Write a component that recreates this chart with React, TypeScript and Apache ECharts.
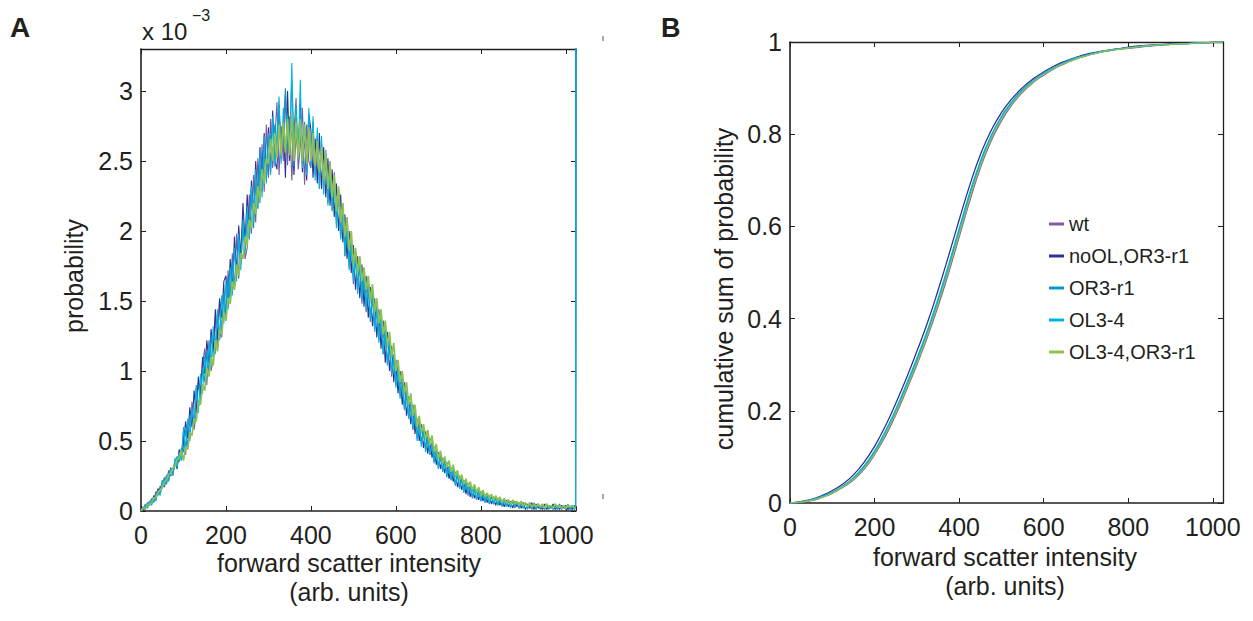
import React, { useEffect, useRef } from 'react';
import * as echarts from 'echarts';

// ---------- DATA ----------
const seriesNames = ['wt', 'noOL,OR3-r1', 'OR3-r1', 'OL3-4', 'OL3-4,OR3-r1'];

// Panel A: histogram bin positions (forward scatter intensity, arb. units)
const histX = [
  0, 5, 10, 15, 20, 25, 30, 35, 40, 45,
  50, 55, 60, 65, 70, 75, 80, 85, 90, 95,
  100, 105, 110, 115, 120, 125, 130, 135, 140, 145,
  150, 155, 160, 165, 170, 175, 180, 185, 190, 195,
  200, 205, 210, 215, 220, 225, 230, 235, 240, 245,
  250, 255, 260, 265, 270, 275, 280, 285, 290, 295,
  300, 305, 310, 315, 320, 325, 330, 335, 340, 345,
  350, 355, 360, 365, 370, 375, 380, 385, 390, 395,
  400, 405, 410, 415, 420, 425, 430, 435, 440, 445,
  450, 455, 460, 465, 470, 475, 480, 485, 490, 495,
  500, 505, 510, 515, 520, 525, 530, 535, 540, 545,
  550, 555, 560, 565, 570, 575, 580, 585, 590, 595,
  600, 605, 610, 615, 620, 625, 630, 635, 640, 645,
  650, 655, 660, 665, 670, 675, 680, 685, 690, 695,
  700, 705, 710, 715, 720, 725, 730, 735, 740, 745,
  750, 755, 760, 765, 770, 775, 780, 785, 790, 795,
  800, 805, 810, 815, 820, 825, 830, 835, 840, 845,
  850, 855, 860, 865, 870, 875, 880, 885, 890, 895,
  900, 905, 910, 915, 920, 925, 930, 935, 940, 945,
  950, 955, 960, 965, 970, 975, 980, 985, 990, 995,
  1000, 1005, 1010, 1015, 1020, 1023, 1024,
];

// Panel A: probability values (x 10^-3)
const histWt = [
  0.00, 0.03, 0.01, 0.06, 0.04, 0.09, 0.07, 0.14, 0.11, 0.18,
  0.16, 0.24, 0.20, 0.29, 0.25, 0.27, 0.36, 0.33, 0.43, 0.38,
  0.56, 0.40, 0.62, 0.50, 0.78, 0.58, 0.70, 0.92, 0.80, 1.05,
  1.16, 0.90, 1.22, 1.00, 1.08, 1.38, 1.16, 1.50, 1.24, 1.62,
  1.36, 1.72, 1.50, 1.84, 1.58, 1.98, 1.66, 1.90, 2.10, 1.80,
  1.88, 2.26, 1.98, 2.40, 2.06, 2.52, 2.20, 2.62, 2.28, 2.76,
  2.38, 2.80, 2.45, 2.66, 2.92, 2.40, 2.75, 2.50, 2.98, 2.47,
  2.82, 2.36, 2.70, 2.95, 2.44, 2.60, 2.88, 2.33, 2.76, 2.50,
  2.45, 2.78, 2.40, 2.68, 2.30, 2.62, 2.35, 2.55, 2.20, 2.50,
  2.15, 2.42, 2.05, 2.30, 1.95, 2.20, 1.82, 2.08, 1.74, 1.95,
  1.62, 1.86, 1.58, 1.80, 1.48, 1.70, 1.42, 1.63, 1.35, 1.55,
  1.30, 1.48, 1.22, 1.38, 1.12, 1.30, 1.05, 1.20, 0.96, 1.12,
  0.90, 1.05, 0.82, 0.95, 0.73, 0.86, 0.66, 0.78, 0.58, 0.70,
  0.52, 0.64, 0.48, 0.58, 0.43, 0.53, 0.40, 0.49, 0.35, 0.43,
  0.31, 0.40, 0.28, 0.36, 0.25, 0.32, 0.22, 0.29, 0.19, 0.26,
  0.16, 0.24, 0.14, 0.21, 0.11, 0.18, 0.09, 0.16, 0.08, 0.14,
  0.07, 0.13, 0.06, 0.12, 0.05, 0.11, 0.05, 0.10, 0.04, 0.09,
  0.04, 0.08, 0.03, 0.08, 0.03, 0.07, 0.02, 0.07, 0.02, 0.06,
  0.02, 0.06, 0.02, 0.05, 0.01, 0.06, 0.02, 0.05, 0.01, 0.04,
  0.01, 0.05, 0.02, 0.04, 0.01, 0.05, 0.02, 0.04, 0.01, 0.04,
  0.01, 0.04, 0.02, 0.04, 0.01, 0.03, 4.20,
];
const histNoOL = [
  0.01, 0.00, 0.04, 0.03, 0.07, 0.05, 0.11, 0.09, 0.16, 0.13,
  0.21, 0.17, 0.25, 0.22, 0.31, 0.26, 0.35, 0.30, 0.44, 0.37,
  0.48, 0.64, 0.52, 0.74, 0.60, 0.86, 0.70, 0.96, 0.84, 1.10,
  0.98, 1.22, 1.06, 1.30, 1.14, 1.44, 1.22, 1.52, 1.38, 1.64,
  1.68, 1.46, 1.80, 1.58, 1.96, 1.70, 2.04, 1.80, 2.20, 1.92,
  2.26, 2.00, 2.36, 2.10, 2.50, 2.22, 2.60, 2.32, 2.70, 2.40,
  2.74, 2.42, 2.86, 2.50, 2.44, 2.90, 2.52, 2.78, 2.38, 3.00,
  2.50, 2.80, 2.40, 2.72, 2.52, 2.92, 2.42, 2.70, 2.36, 2.84,
  2.72, 2.38, 2.66, 2.34, 2.70, 2.30, 2.60, 2.24, 2.52, 2.18,
  2.44, 2.10, 2.34, 2.00, 2.26, 1.92, 2.12, 1.80, 2.00, 1.70,
  1.90, 1.58, 1.82, 1.52, 1.76, 1.46, 1.68, 1.38, 1.60, 1.32,
  1.52, 1.24, 1.44, 1.16, 1.36, 1.06, 1.28, 1.00, 1.18, 0.92,
  1.08, 0.84, 1.00, 0.76, 0.92, 0.68, 0.82, 0.62, 0.76, 0.55,
  0.66, 0.50, 0.62, 0.45, 0.57, 0.41, 0.52, 0.38, 0.46, 0.33,
  0.42, 0.30, 0.38, 0.27, 0.35, 0.23, 0.31, 0.21, 0.28, 0.17,
  0.25, 0.15, 0.22, 0.12, 0.20, 0.10, 0.17, 0.09, 0.15, 0.08,
  0.14, 0.07, 0.12, 0.06, 0.11, 0.05, 0.10, 0.04, 0.09, 0.04,
  0.08, 0.03, 0.08, 0.03, 0.07, 0.02, 0.07, 0.03, 0.06, 0.02,
  0.06, 0.01, 0.05, 0.02, 0.06, 0.01, 0.05, 0.02, 0.04, 0.01,
  0.05, 0.01, 0.04, 0.02, 0.05, 0.01, 0.04, 0.01, 0.04, 0.02,
  0.04, 0.01, 0.03, 0.01, 0.04, 0.02, 4.20,
];
const histOR3 = [
  0.00, 0.02, 0.04, 0.02, 0.06, 0.08, 0.06, 0.12, 0.15, 0.12,
  0.19, 0.23, 0.19, 0.27, 0.30, 0.27, 0.34, 0.39, 0.35, 0.45,
  0.42, 0.58, 0.46, 0.66, 0.72, 0.60, 0.88, 0.74, 0.80, 1.02,
  0.92, 1.14, 0.98, 1.26, 1.10, 1.18, 1.40, 1.22, 1.32, 1.56,
  1.40, 1.66, 1.52, 1.78, 1.60, 1.70, 1.92, 1.76, 2.02, 1.86,
  2.12, 1.94, 2.24, 2.02, 2.34, 2.16, 2.48, 2.28, 2.56, 2.38,
  2.50, 2.68, 2.52, 2.76, 2.56, 2.84, 2.58, 2.72, 3.02, 2.60,
  2.56, 3.08, 2.62, 2.80, 2.55, 2.86, 2.60, 2.78, 2.52, 2.74,
  2.54, 2.70, 2.48, 2.62, 2.44, 2.58, 2.36, 2.50, 2.30, 2.44,
  2.22, 2.35, 2.12, 2.26, 2.02, 2.14, 1.90, 2.04, 1.80, 1.92,
  1.68, 1.78, 1.62, 1.74, 1.55, 1.66, 1.48, 1.58, 1.40, 1.52,
  1.34, 1.42, 1.26, 1.34, 1.16, 1.24, 1.08, 1.16, 1.00, 1.08,
  0.92, 1.00, 0.84, 0.90, 0.76, 0.82, 0.68, 0.74, 0.60, 0.68,
  0.54, 0.60, 0.50, 0.56, 0.45, 0.51, 0.42, 0.47, 0.37, 0.43,
  0.33, 0.38, 0.30, 0.35, 0.26, 0.31, 0.24, 0.28, 0.20, 0.25,
  0.18, 0.22, 0.15, 0.19, 0.13, 0.17, 0.11, 0.15, 0.09, 0.13,
  0.08, 0.12, 0.07, 0.11, 0.06, 0.10, 0.05, 0.09, 0.05, 0.08,
  0.04, 0.08, 0.04, 0.07, 0.03, 0.07, 0.03, 0.06, 0.02, 0.06,
  0.03, 0.05, 0.02, 0.06, 0.02, 0.05, 0.01, 0.05, 0.02, 0.04,
  0.02, 0.05, 0.01, 0.04, 0.02, 0.04, 0.01, 0.05, 0.02, 0.03,
  0.02, 0.04, 0.01, 0.03, 0.02, 0.03, 4.20,
];
const histOL = [
  0.02, 0.01, 0.05, 0.03, 0.07, 0.04, 0.10, 0.07, 0.14, 0.11,
  0.22, 0.18, 0.26, 0.21, 0.30, 0.25, 0.38, 0.31, 0.42, 0.36,
  0.60, 0.44, 0.66, 0.52, 0.74, 0.62, 0.90, 0.70, 0.98, 0.84,
  1.12, 0.94, 1.20, 1.04, 1.32, 1.12, 1.44, 1.24, 1.54, 1.34,
  1.64, 1.44, 1.74, 1.54, 1.88, 1.64, 1.98, 1.72, 2.08, 1.84,
  2.18, 1.96, 2.32, 2.06, 2.44, 2.16, 2.58, 2.24, 2.68, 2.34,
  2.70, 2.40, 2.82, 2.46, 2.70, 2.96, 2.48, 2.88, 2.55, 2.82,
  2.60, 3.20, 2.46, 2.90, 2.52, 3.08, 2.45, 2.76, 2.40, 2.88,
  2.46, 2.82, 2.36, 2.74, 2.30, 2.68, 2.26, 2.58, 2.18, 2.46,
  2.14, 2.38, 2.02, 2.28, 1.94, 2.18, 1.82, 2.06, 1.72, 1.94,
  1.64, 1.84, 1.55, 1.80, 1.50, 1.70, 1.44, 1.62, 1.36, 1.56,
  1.28, 1.46, 1.20, 1.40, 1.12, 1.30, 1.04, 1.22, 0.98, 1.12,
  0.88, 1.02, 0.80, 0.96, 0.72, 0.86, 0.66, 0.78, 0.58, 0.72,
  0.50, 0.62, 0.46, 0.58, 0.42, 0.54, 0.40, 0.48, 0.34, 0.44,
  0.30, 0.40, 0.28, 0.36, 0.24, 0.32, 0.22, 0.30, 0.18, 0.27,
  0.16, 0.24, 0.13, 0.21, 0.12, 0.18, 0.10, 0.17, 0.08, 0.15,
  0.07, 0.14, 0.06, 0.12, 0.05, 0.12, 0.05, 0.10, 0.04, 0.09,
  0.03, 0.09, 0.03, 0.08, 0.02, 0.08, 0.03, 0.07, 0.02, 0.06,
  0.02, 0.06, 0.01, 0.06, 0.02, 0.05, 0.01, 0.05, 0.02, 0.04,
  0.01, 0.05, 0.02, 0.04, 0.01, 0.05, 0.01, 0.04, 0.02, 0.04,
  0.01, 0.05, 0.02, 0.04, 0.01, 0.02, 4.20,
];
const histOLOR3 = [
  0.00, 0.02, 0.02, 0.04, 0.05, 0.06, 0.09, 0.10, 0.13, 0.15,
  0.17, 0.21, 0.22, 0.26, 0.27, 0.31, 0.32, 0.37, 0.38, 0.43,
  0.36, 0.46, 0.44, 0.56, 0.54, 0.66, 0.64, 0.78, 0.76, 0.90,
  0.86, 1.02, 0.96, 1.10, 1.04, 1.22, 1.14, 1.30, 1.26, 1.42,
  1.36, 1.52, 1.48, 1.64, 1.58, 1.76, 1.68, 1.84, 1.80, 1.96,
  1.90, 2.08, 2.02, 2.20, 2.12, 2.32, 2.22, 2.44, 2.34, 2.52,
  2.48, 2.66, 2.50, 2.70, 2.52, 2.76, 2.54, 2.78, 2.56, 2.80,
  2.54, 2.84, 2.50, 2.78, 2.52, 2.80, 2.50, 2.76, 2.48, 2.74,
  2.50, 2.70, 2.46, 2.64, 2.42, 2.60, 2.36, 2.56, 2.30, 2.48,
  2.24, 2.40, 2.14, 2.32, 2.06, 2.20, 1.96, 2.10, 1.86, 2.00,
  1.76, 1.88, 1.70, 1.82, 1.64, 1.74, 1.58, 1.68, 1.50, 1.62,
  1.42, 1.52, 1.34, 1.44, 1.26, 1.36, 1.18, 1.28, 1.10, 1.20,
  1.00, 1.08, 0.92, 1.00, 0.84, 0.92, 0.76, 0.84, 0.68, 0.76,
  0.60, 0.68, 0.56, 0.62, 0.51, 0.58, 0.47, 0.54, 0.42, 0.48,
  0.37, 0.43, 0.34, 0.39, 0.31, 0.36, 0.28, 0.33, 0.25, 0.29,
  0.22, 0.26, 0.19, 0.23, 0.17, 0.21, 0.15, 0.19, 0.13, 0.17,
  0.11, 0.15, 0.10, 0.13, 0.09, 0.12, 0.08, 0.11, 0.07, 0.10,
  0.06, 0.09, 0.06, 0.08, 0.05, 0.08, 0.05, 0.07, 0.04, 0.07,
  0.04, 0.06, 0.03, 0.06, 0.03, 0.05, 0.03, 0.05, 0.03, 0.05,
  0.02, 0.05, 0.03, 0.04, 0.02, 0.05, 0.03, 0.04, 0.02, 0.04,
  0.02, 0.04, 0.03, 0.04, 0.02, 0.03, 0.03,
];

// Panel B: cumulative sum of probability
const cdfX = [
  0, 25, 50, 75, 100, 125, 150, 175, 200, 225, 250, 275, 300, 325, 350, 375, 400,
  425, 450, 475, 500, 525, 550, 575, 600, 625, 650, 675, 700, 725, 750, 775, 800,
  850, 900, 950, 1000, 1024,
];
const cdfWt = [
  0, 0.002, 0.005, 0.012, 0.021, 0.034, 0.05, 0.073, 0.105, 0.144, 0.191, 0.244, 0.3, 0.36, 0.426, 0.499, 0.577,
  0.655, 0.726, 0.784, 0.829, 0.864, 0.891, 0.912, 0.928, 0.942, 0.953, 0.963, 0.97, 0.976, 0.98, 0.984, 0.986,
  0.991, 0.995, 0.997, 0.999, 1,
];
const cdfNoOL = [
  0, 0.003, 0.008, 0.016, 0.027, 0.041, 0.061, 0.088, 0.123, 0.166, 0.216, 0.27, 0.329, 0.391, 0.461, 0.536, 0.614,
  0.689, 0.755, 0.807, 0.847, 0.877, 0.901, 0.92, 0.935, 0.948, 0.958, 0.966, 0.973, 0.978, 0.982, 0.985, 0.989,
  0.993, 0.996, 0.998, 0.999, 1,
];
const cdfOR3 = [
  0, 0.002, 0.006, 0.013, 0.023, 0.036, 0.053, 0.077, 0.11, 0.151, 0.199, 0.252, 0.309, 0.37, 0.437, 0.511, 0.589,
  0.667, 0.737, 0.793, 0.836, 0.869, 0.895, 0.915, 0.931, 0.944, 0.955, 0.964, 0.971, 0.977, 0.981, 0.985, 0.987,
  0.992, 0.995, 0.997, 0.999, 1,
];
const cdfOL = [
  0, 0.002, 0.007, 0.014, 0.024, 0.037, 0.055, 0.08, 0.113, 0.155, 0.203, 0.257, 0.314, 0.375, 0.443, 0.517, 0.595,
  0.673, 0.741, 0.796, 0.839, 0.871, 0.897, 0.916, 0.932, 0.945, 0.956, 0.965, 0.971, 0.977, 0.981, 0.985, 0.987,
  0.992, 0.995, 0.997, 0.999, 1,
];
const cdfOLOR3 = [
  0, 0.002, 0.006, 0.012, 0.022, 0.035, 0.052, 0.075, 0.107, 0.148, 0.195, 0.248, 0.304, 0.365, 0.432, 0.505, 0.583,
  0.661, 0.731, 0.789, 0.833, 0.866, 0.893, 0.913, 0.93, 0.943, 0.954, 0.963, 0.97, 0.976, 0.981, 0.984, 0.987,
  0.992, 0.995, 0.997, 0.999, 1,
];

const xTickLabels = ['0', '200', '400', '600', '800', '1000'];

const histValues = [histWt, histNoOL, histOR3, histOL, histOLOR3];
const cdfValues = [cdfWt, cdfNoOL, cdfOR3, cdfOL, cdfOLOR3];

// ---------- STYLE ----------
const COLORS = ['#7d5ba6', '#2e3192', '#0a96c6', '#00b4e1', '#8dc153'];
const HIST_WIDTHS = [1.1, 1.1, 1.1, 1.1, 1.7];
const INK = '#231f20';
const FONT = '"Liberation Sans", Arial, Helvetica, sans-serif';

function xAxisPair(gridIndex: number) {
  const common = {
    gridIndex,
    type: 'value' as const,
    min: 0,
    max: 1024,
    interval: 200,
    splitLine: { show: false },
    axisTick: { show: true, inside: true, length: 5, lineStyle: { color: INK, width: 1 } },
  };
  return [
    {
      ...common,
      position: 'bottom',
      axisLine: { show: true, onZero: false, lineStyle: { color: INK, width: 1.6 } },
      axisLabel: {
        show: true,
        fontSize: 25,
        fontFamily: FONT,
        color: INK,
        margin: 11,
        formatter: (v: number) => (xTickLabels.includes(String(v)) ? String(v) : ''),
      },
    },
    {
      ...common,
      position: 'top',
      axisLine: { show: true, onZero: false, lineStyle: { color: INK, width: 1.3 } },
      axisLabel: { show: false },
    },
  ];
}

function yAxisPair(gridIndex: number, max: number, interval: number, rightLine: boolean, fmt: (v: number) => string) {
  const common = {
    gridIndex,
    type: 'value' as const,
    min: 0,
    max,
    interval,
    splitLine: { show: false },
    axisTick: { show: true, inside: true, length: 5, lineStyle: { color: INK, width: 1 } },
  };
  return [
    {
      ...common,
      position: 'left',
      axisLine: { show: true, onZero: false, lineStyle: { color: INK, width: 1.6 } },
      axisLabel: { show: true, fontSize: 25, fontFamily: FONT, color: INK, margin: 8, formatter: fmt },
    },
    {
      ...common,
      position: 'right',
      axisLine: { show: rightLine, onZero: false, lineStyle: { color: INK, width: 1.3 } },
      axisLabel: { show: false },
    },
  ];
}

export default function App() {
  const ref = useRef<HTMLDivElement>(null);

  useEffect(() => {
    if (!ref.current) return;
    const chart = echarts.init(ref.current, undefined, { renderer: 'svg' });

    const histSeries = seriesNames.map((name, i) => ({
      name,
      type: 'line',
      xAxisIndex: 0,
      yAxisIndex: 0,
      data: histX.map((x, j) => [x, histValues[i][j]]),
      showSymbol: false,
      symbol: 'none',
      clip: true,
      lineStyle: { width: HIST_WIDTHS[i], color: COLORS[i] },
      itemStyle: { color: COLORS[i] },
    }));

    const cdfSeries = seriesNames.map((name, i) => ({
      name,
      type: 'line',
      xAxisIndex: 2,
      yAxisIndex: 2,
      data: cdfX.map((x, j) => [x, cdfValues[i][j]]),
      showSymbol: false,
      symbol: 'none',
      smooth: 0.5,
      clip: true,
      lineStyle: { width: 1.3, color: COLORS[i] },
      itemStyle: { color: COLORS[i] },
    }));

    const textStyle = (size: number, weight: string = 'normal') => ({
      fontSize: size,
      fontFamily: FONT,
      fontWeight: weight,
      fill: INK,
    });

    chart.setOption({
      animation: false,
      backgroundColor: '#ffffff',
      grid: [
        { left: 141, top: 49, width: 435, height: 462, containLabel: false },
        { left: 790, top: 42, width: 433, height: 461, containLabel: false },
      ],
      xAxis: [...xAxisPair(0), ...xAxisPair(1)],
      yAxis: [
        ...yAxisPair(0, 3.3, 0.5, false, (v: number) =>
          Math.abs(v * 2 - Math.round(v * 2)) < 1e-6 ? String(Math.round(v * 10) / 10) : ''
        ),
        ...yAxisPair(1, 1, 0.2, true, (v: number) => String(Math.round(v * 10) / 10)),
      ],
      legend: {
        data: seriesNames,
        orient: 'vertical',
        left: 1044,
        top: 209,
        icon: 'rect',
        itemWidth: 15,
        itemHeight: 3,
        itemGap: 12,
        selectedMode: false,
        textStyle: { fontSize: 20, lineHeight: 20, color: INK, fontFamily: FONT },
      },
      series: [...histSeries, ...cdfSeries],
      graphic: [
        { type: 'text', left: 10, top: 13, style: { text: 'A', ...textStyle(28, 'bold') } },
        { type: 'text', left: 661, top: 14, style: { text: 'B', ...textStyle(27, 'bold') } },
        { type: 'text', left: 142, top: 19, style: { text: 'x 10', ...textStyle(24) } },
        { type: 'text', left: 192, top: 7, style: { text: '\u22123', ...textStyle(16) } },
        {
          type: 'text',
          x: 74,
          y: 276,
          rotation: Math.PI / 2,
          style: { text: 'probability', ...textStyle(25), align: 'center', verticalAlign: 'middle' },
        },
        {
          type: 'text',
          x: 724,
          y: 289,
          rotation: Math.PI / 2,
          style: { text: 'cumulative sum of probability', ...textStyle(25), align: 'center', verticalAlign: 'middle' },
        },
        {
          type: 'text',
          x: 349,
          y: 563,
          style: { text: 'forward scatter intensity', ...textStyle(25), align: 'center', verticalAlign: 'middle' },
        },
        {
          type: 'text',
          x: 349,
          y: 592,
          style: { text: '(arb. units)', ...textStyle(25), align: 'center', verticalAlign: 'middle' },
        },
        {
          type: 'text',
          x: 1005,
          y: 557,
          style: { text: 'forward scatter intensity', ...textStyle(25), align: 'center', verticalAlign: 'middle' },
        },
        {
          type: 'text',
          x: 1005,
          y: 586,
          style: { text: '(arb. units)', ...textStyle(25), align: 'center', verticalAlign: 'middle' },
        },
        { type: 'line', shape: { x1: 603, y1: 36, x2: 603, y2: 41 }, style: { stroke: '#555555', lineWidth: 1 } },
        { type: 'line', shape: { x1: 603, y1: 494, x2: 603, y2: 499 }, style: { stroke: '#555555', lineWidth: 1 } },
      ],
    });

    return () => chart.dispose();
  }, []);

  return (
    <div
      ref={ref}
      style={{ position: 'fixed', left: 0, top: 0, width: 1253, height: 621, background: '#ffffff' }}
    />
  );
}
